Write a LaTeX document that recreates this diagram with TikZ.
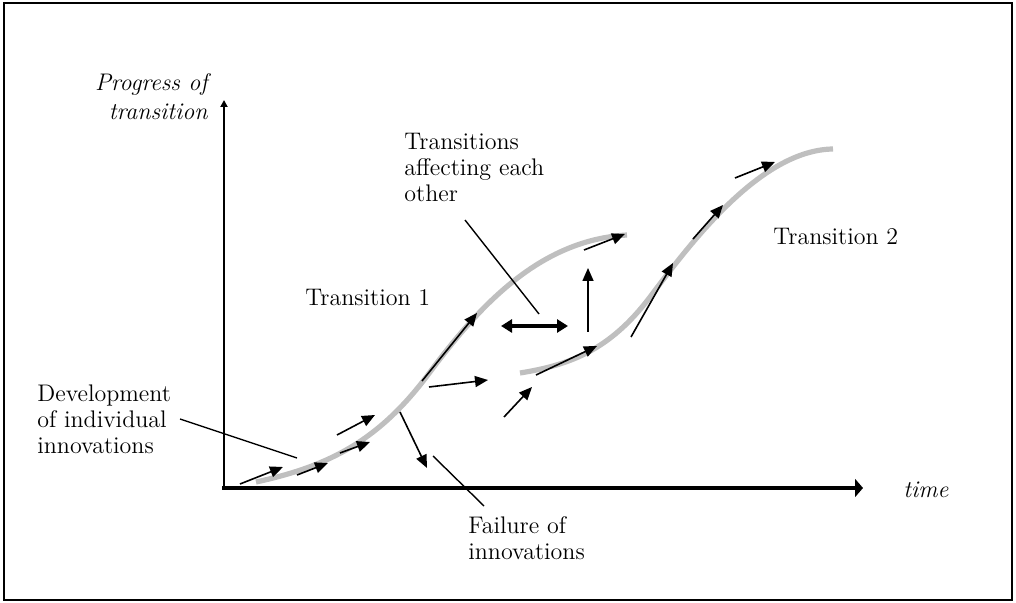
\documentclass[tikz,border=0pt]{standalone}
\usetikzlibrary{arrows.meta}
\begin{document}
\begin{tikzpicture}[x=0.5pt,y=-0.5pt,
        lbl/.style={font=\fontsize{12}{13}\selectfont, align=left, inner sep=0pt},
        axlbl/.style={font=\fontsize{12}{14.5}\selectfont\itshape, inner sep=0pt},
        curve/.style={line width=2.6pt, color=black!25},
        innov/.style={line width=0.8pt, -{Triangle[length=6.5pt,width=5.5pt]}},
        lead/.style={line width=0.7pt}]
        \useasboundingbox (0,0) rectangle (1016,603);
        \draw[line width=1pt] (4,3) rectangle (1012,600);
        % axes
        \coordinate (orig) at (224,488);
        \coordinate (ytop) at (224,100);
        \coordinate (xend) at (863,488);
        \draw[line width=1pt, -{Triangle[length=3.5pt,width=3.5pt]}] (orig) -- (ytop);
        \draw[line width=2pt, -{Triangle[length=4pt,width=9pt]}] ([xshift=-1pt]orig) -- (xend);
        \node[axlbl, anchor=east, align=right] (ylab) at (208,97) {Progress of\\transition};
        \node[axlbl, anchor=west] (xlab) at (903,490) {time};
        % the two transitions
        \draw[curve] (256,482) .. controls (330,466) and (380,440) .. (430,372)
            .. controls (480,305) and (540,240) .. (627,235);
        \draw[curve] (520,373) .. controls (570,365) and (610,350) .. (650,297)
            .. controls (690,244) and (760,150) .. (833,149);
        % innovations
        \foreach \xa/\ya/\xb/\yb in {240/484/283/467, 297/475/328/463, 340/453/370/442,
            337/435/375/415, 422/381/477/313, 429/387/488/380, 400/412/427/468,
            504/417/532/387, 536/375/597/346, 588/332/588/268, 584/250/625/234,
            631/337/673/263, 693/239/723/205, 735/178/775/162}
            \draw[innov] (\xa,\ya) -- (\xb,\yb);
        \draw[line width=1.8pt, {Triangle[length=5.5pt,width=6.5pt]}-{Triangle[length=5.5pt,width=6.5pt]}] (501,326) -- (568,326);
        % labels
        \node[lbl, anchor=west] (aff) at (404,167) {Transitions\\affecting each\\other};
        \node[lbl, anchor=west] (tone) at (305,297) {Transition 1};
        \node[lbl, anchor=west] (ttwo) at (773,236) {Transition 2};
        \node[lbl, anchor=west] (dev) at (37,419) {Development\\of individual\\innovations};
        \node[lbl, anchor=west] (fail) at (468,538) {Failure of\\innovations};
        \coordinate (affA) at (465,220);
        \coordinate (affB) at (539,314);
        \coordinate (devA) at (180,419);
        \coordinate (devB) at (297,458);
        \coordinate (failA) at (484,506);
        \coordinate (failB) at (433,456);
        \draw[lead] (affA) -- (affB);
        \draw[lead] (devA) -- (devB);
        \draw[lead] (failA) -- (failB);
    \end{tikzpicture}
\end{document}
